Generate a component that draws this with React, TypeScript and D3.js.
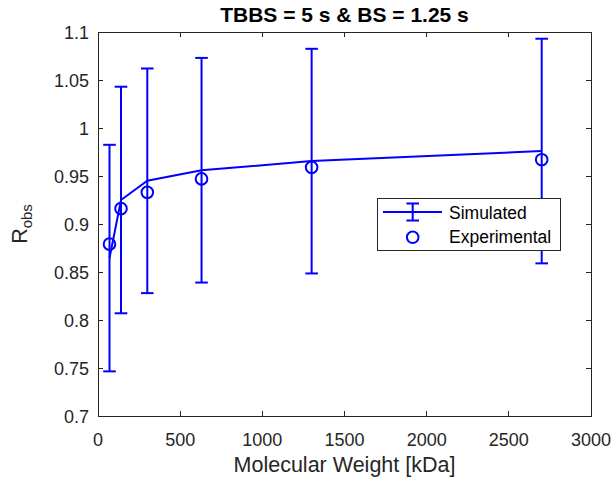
import React from "react";
import * as d3 from "d3";

const molecularWeight = [70, 140, 300, 630, 1300, 2700];
const simulated = [0.8645, 0.925, 0.945, 0.956, 0.9655, 0.976];
const simulatedError = [0.118, 0.118, 0.117, 0.117, 0.117, 0.117];
const experimental = [0.879, 0.916, 0.933, 0.947, 0.959, 0.967];
const xTicks = [0, 500, 1000, 1500, 2000, 2500, 3000];
const yTicks = [0.7, 0.75, 0.8, 0.85, 0.9, 0.95, 1, 1.05, 1.1];
const titleText = "TBBS = 5 s & BS = 1.25 s";
const xLabelText = "Molecular Weight [kDa]";
const legendLabels = ["Simulated", "Experimental"];

const W = 614;
const H = 485;
const left = 98;
const right = 591;
const top = 32;
const bottom = 416;
const BLUE = "#0000FF";
const AX = "#262626";
const FONT = "Arial, 'Liberation Sans', Helvetica, sans-serif";

export default function App() {
  const x = d3.scaleLinear().domain([0, 3000]).range([left, right]);
  const y = d3.scaleLinear().domain([0.7, 1.1]).range([bottom, top]);
  const pts = molecularWeight.map((m, i) => ({ m, s: simulated[i], e: simulatedError[i], ex: experimental[i] }));
  const line = d3.line<{ m: number; s: number }>().x((d) => x(d.m)).y((d) => y(d.s));
  const tickLen = 5;
  const cap = 6.3;
  const fmt = (v: number) => String(+v.toFixed(2));

  return (
    <svg width={W} height={H} style={{ position: "absolute", left: 0, top: 0, background: "#fff" }} fontFamily={FONT}>
      <rect x={0} y={0} width={W} height={H} fill="#fff" />
      <rect x={left} y={top} width={right - left} height={bottom - top} fill="#fff" stroke={AX} strokeWidth={1} shapeRendering="crispEdges" />
      {xTicks.map((t) => (
        <g key={"xt" + t}>
          <line x1={x(t)} x2={x(t)} y1={bottom} y2={bottom - tickLen} stroke={AX} shapeRendering="crispEdges" />
          <line x1={x(t)} x2={x(t)} y1={top} y2={top + tickLen} stroke={AX} shapeRendering="crispEdges" />
          <text x={x(t)} y={446} textAnchor="middle" fontSize={18} fill={AX}>{t}</text>
        </g>
      ))}
      {yTicks.map((t) => (
        <g key={"yt" + t}>
          <line x1={left} x2={left + tickLen} y1={y(t)} y2={y(t)} stroke={AX} shapeRendering="crispEdges" />
          <line x1={right} x2={right - tickLen} y1={y(t)} y2={y(t)} stroke={AX} shapeRendering="crispEdges" />
          <text x={89} y={y(t) + 6.5} textAnchor="end" fontSize={18} fill={AX}>{fmt(t)}</text>
        </g>
      ))}
      <path d={line(pts) || ""} fill="none" stroke={BLUE} strokeWidth={2} />
      {pts.map((p, i) => (
        <g key={"eb" + i} stroke={BLUE} strokeWidth={2}>
          <line x1={x(p.m)} x2={x(p.m)} y1={y(p.s - p.e)} y2={y(p.s + p.e)} />
          <line x1={x(p.m) - cap} x2={x(p.m) + cap} y1={y(p.s + p.e)} y2={y(p.s + p.e)} />
          <line x1={x(p.m) - cap} x2={x(p.m) + cap} y1={y(p.s - p.e)} y2={y(p.s - p.e)} />
        </g>
      ))}
      {pts.map((p, i) => (
        <circle key={"c" + i} cx={x(p.m)} cy={y(p.ex)} r={5.8} fill="none" stroke={BLUE} strokeWidth={2} />
      ))}
      <text x={(left + right) / 2} y={22} textAnchor="middle" fontSize={21} fontWeight="bold" fill="#000">{titleText}</text>
      <text x={(left + right) / 2} y={472} textAnchor="middle" fontSize={21.5} fill={AX}>{xLabelText}</text>
      <text transform={`translate(27,${(top + bottom) / 2}) rotate(-90)`} textAnchor="middle" fontSize={21.5} fill={AX}>
        R<tspan fontSize={15} dy={5}>obs</tspan>
      </text>
      <g>
        <rect x={377.5} y={198.5} width={182.5} height={51.5} fill="#fff" stroke={AX} strokeWidth={1} shapeRendering="crispEdges" />
        <line x1={383} x2={442} y1={212} y2={212} stroke={BLUE} strokeWidth={2} />
        <line x1={412.7} x2={412.7} y1={203.5} y2={220.5} stroke={BLUE} strokeWidth={2} />
        <line x1={412.7 - cap} x2={412.7 + cap} y1={203.5} y2={203.5} stroke={BLUE} strokeWidth={2} />
        <line x1={412.7 - cap} x2={412.7 + cap} y1={220.5} y2={220.5} stroke={BLUE} strokeWidth={2} />
        <circle cx={412.7} cy={237.3} r={5.8} fill="none" stroke={BLUE} strokeWidth={2} />
        <text x={449} y={219} fontSize={17.5} fill="#000">{legendLabels[0]}</text>
        <text x={449} y={242.5} fontSize={17.5} fill="#000">{legendLabels[1]}</text>
      </g>
    </svg>
  );
}
